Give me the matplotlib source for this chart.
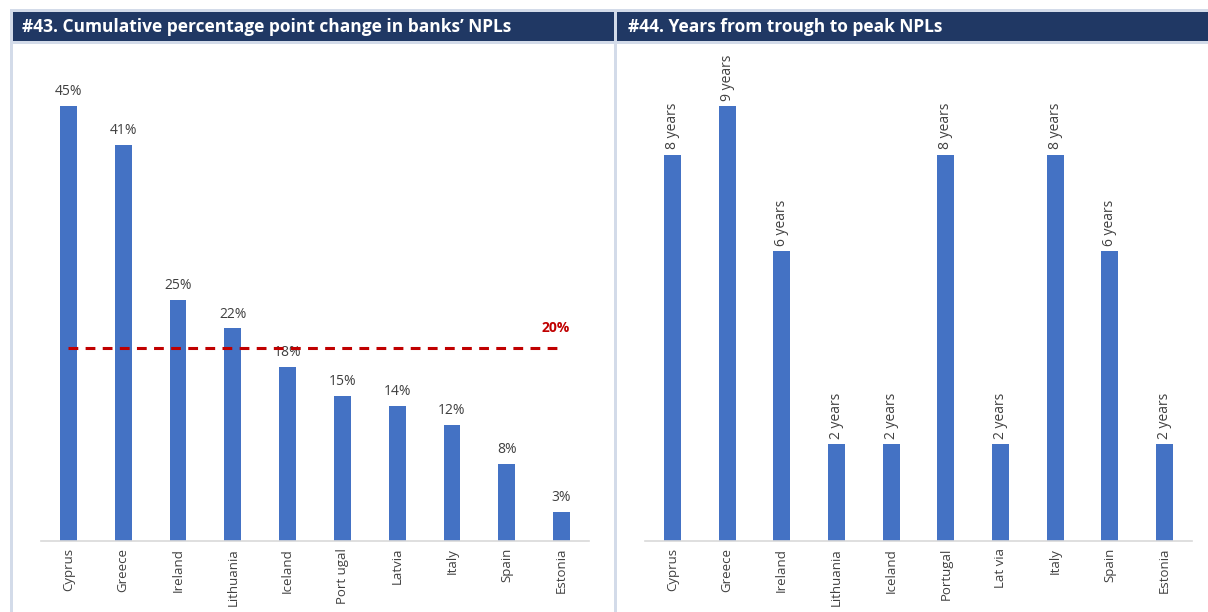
import numpy as np
import matplotlib.pyplot as plt
from matplotlib.patches import Rectangle

countries_npl = ['Cyprus', 'Greece', 'Ireland', 'Lithuania', 'Iceland',
                 'Port ugal', 'Latvia', 'Italy', 'Spain', 'Estonia']
npl_change = [45, 41, 25, 22, 18, 15, 14, 12, 8, 3]
threshold = 20

countries_years = ['Cyprus', 'Greece', 'Ireland', 'Lithuania', 'Iceland',
                   'Portugal', 'Lat via', 'Italy', 'Spain', 'Estonia']
years_to_peak = [8, 9, 6, 2, 2, 8, 2, 8, 6, 2]

title_left = '#43. Cumulative percentage point change in banks\u2019 NPLs'
title_right = '#44. Years from trough to peak NPLs'

bar_color = '#4472c4'
navy = '#203864'
frame = '#d3dbe9'
text_gray = '#404040'
red = '#c00000'

plt.rcParams['font.family'] = ['Open Sans', 'DejaVu Sans']

W, H = 1208, 612
fig = plt.figure(figsize=(W / 100, H / 100), dpi=100)
fig.patch.set_facecolor('white')


def px_box(x0, y0, x1, y1):
    # pixel box (top-left origin) -> figure fraction rect
    return [x0 / W, 1 - y1 / H, (x1 - x0) / W, (y1 - y0) / H]


# panel frames and title bars
tr = fig.transFigure
for box in [(10, 9, 1208, 12), (10, 41, 1208, 44), (10, 9, 13, 612), (614, 9, 617, 612)]:
    r = px_box(*box)
    fig.patches.append(Rectangle((r[0], r[1]), r[2], r[3], transform=tr,
                                 facecolor=frame, edgecolor='none', zorder=0))
for box in [(13, 12, 614, 41), (617, 12, 1208, 41)]:
    r = px_box(*box)
    fig.patches.append(Rectangle((r[0], r[1]), r[2], r[3], transform=tr,
                                 facecolor=navy, edgecolor='none', zorder=1))
fig.text(22 / W, 1 - 27 / H, title_left, color='white', fontsize=12.5,
         fontweight='bold', va='center', ha='left', zorder=2)
fig.text(628 / W, 1 - 27 / H, title_right, color='white', fontsize=12.5,
         fontweight='bold', va='center', ha='left', zorder=2)


def style_axis(ax, labels):
    x = np.arange(len(labels))
    ax.set_xlim(-0.5, len(labels) - 0.5)
    for s in ['top', 'right', 'left']:
        ax.spines[s].set_visible(False)
    ax.spines['bottom'].set_color('#d9d9d9')
    ax.spines['bottom'].set_linewidth(1.2)
    ax.set_yticks([])
    ax.set_xticks(x)
    ax.set_xticklabels(labels, rotation=90, fontsize=9.5, color=text_gray)
    ax.tick_params(axis='x', length=0, pad=5)
    return x


# left chart: cumulative change in NPLs
ax1 = fig.add_axes(px_box(41, 58, 589, 541))
x1 = style_axis(ax1, countries_npl)
ax1.set_ylim(0, 50)
ax1.bar(x1, npl_change, width=0.31, color=bar_color, zorder=2)
for xi, v in zip(x1, npl_change):
    ax1.annotate(f'{v}%', (xi, v), xytext=(0, 5), textcoords='offset points',
                 ha='center', va='bottom', fontsize=10, color=text_gray)
ax1.plot([x1[0], x1[-1]], [threshold, threshold], color=red, lw=2.2,
         dashes=(3.2, 2.4), zorder=3)
ax1.annotate(f'{threshold}%', (x1[-1], threshold), xytext=(-4, 9),
             textcoords='offset points', ha='center', va='bottom',
             fontsize=10, fontweight='bold', color=red)

# right chart: years from trough to peak
ax2 = fig.add_axes(px_box(645, 58, 1192, 541))
x2 = style_axis(ax2, countries_years)
ax2.set_ylim(0, 10)
ax2.bar(x2, years_to_peak, width=0.31, color=bar_color, zorder=2)
for xi, v in zip(x2, years_to_peak):
    ax2.annotate(f'{v} years', (xi, v), xytext=(0, 4), textcoords='offset points',
                 ha='center', va='bottom', rotation=90, fontsize=10, color=text_gray)

fig.savefig('out.png', dpi=100)
